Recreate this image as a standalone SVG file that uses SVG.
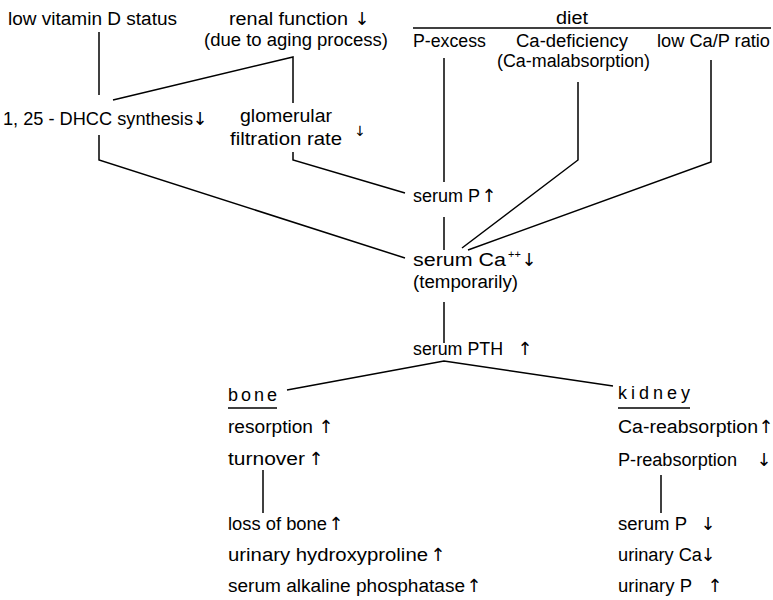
<svg xmlns="http://www.w3.org/2000/svg" width="773" height="600" viewBox="0 0 773 600">
<style>
text{font-family:"Liberation Sans",Arial,sans-serif;font-size:18px;fill:#000}
.ar{font-family:"DejaVu Sans",sans-serif;font-size:18px;text-anchor:middle}
.sm{font-family:"DejaVu Sans",sans-serif;font-size:14px;text-anchor:middle}
.sup{font-size:11px}
line,polyline{stroke:#000;stroke-width:1.5;fill:none}
</style>
<rect width="773" height="600" fill="#fff"/>
<g id="connectors">
<line x1="99" y1="32" x2="99" y2="95"/>
<polyline points="113,100 293,57 293,103"/>
<polyline points="99,135 99,160 405,258"/>
<polyline points="293,152 293,160 405,193"/>
<line x1="413" y1="28" x2="771" y2="28"/>
<line x1="444" y1="58" x2="444" y2="182"/>
<polyline points="578,82 578,160 462,248"/>
<polyline points="711,60 711,162 468,250"/>
<line x1="444" y1="217" x2="444" y2="250"/>
<line x1="444" y1="302" x2="444" y2="343"/>
<polyline points="287,390 444,361 613,386"/>
<line x1="228" y1="408" x2="277" y2="408"/>
<line x1="618" y1="408" x2="690" y2="408"/>
<line x1="263" y1="470" x2="263" y2="513"/>
<line x1="661" y1="475" x2="661" y2="513"/>
</g>
<g id="vitD"><text x="8" y="25" textLength="169" lengthAdjust="spacingAndGlyphs">low vitamin D status</text></g>
<g id="renal">
<text x="229" y="25"><tspan textLength="119" lengthAdjust="spacingAndGlyphs">renal function</tspan><tspan class="ar" x="362">↓</tspan></text>
<text x="204" y="46" textLength="184" lengthAdjust="spacingAndGlyphs">(due to aging process)</text>
</g>
<g id="diet"><text x="556" y="24" textLength="32" lengthAdjust="spacingAndGlyphs">diet</text></g>
<g id="pexcess"><text x="413" y="47" textLength="73" lengthAdjust="spacingAndGlyphs">P-excess</text></g>
<g id="cadef">
<text x="516" y="47" textLength="112" lengthAdjust="spacingAndGlyphs">Ca-deficiency</text>
<text x="497" y="67" textLength="153" lengthAdjust="spacingAndGlyphs">(Ca-malabsorption)</text>
</g>
<g id="lowcap"><text x="657" y="47" textLength="113" lengthAdjust="spacingAndGlyphs">low Ca/P ratio</text></g>
<g id="dhcc"><text x="3" y="125"><tspan textLength="190" lengthAdjust="spacingAndGlyphs">1, 25 - DHCC synthesis</tspan><tspan class="ar" x="200">↓</tspan></text></g>
<g id="gfr">
<text x="240" y="122" textLength="92" lengthAdjust="spacingAndGlyphs">glomerular</text>
<text x="230" y="145"><tspan textLength="112" lengthAdjust="spacingAndGlyphs">filtration rate</tspan><tspan class="sm" x="360" y="136">↓</tspan></text>
</g>
<g id="serumP"><text x="413" y="202"><tspan textLength="67" lengthAdjust="spacingAndGlyphs">serum P</tspan><tspan class="ar" x="489">↑</tspan></text></g>
<g id="serumCa">
<text x="413" y="266"><tspan textLength="93" lengthAdjust="spacingAndGlyphs">serum Ca</tspan><tspan class="sup" x="508" dy="-8">++</tspan><tspan class="ar" x="529" dy="8">↓</tspan></text>
<text x="413" y="288" textLength="105" lengthAdjust="spacingAndGlyphs">(temporarily)</text>
</g>
<g id="pth"><text x="413" y="355"><tspan textLength="90" lengthAdjust="spacingAndGlyphs">serum PTH</tspan><tspan class="ar" x="525">↑</tspan></text></g>
<g id="bone">
<text x="228" y="401" textLength="49" lengthAdjust="spacing">bone</text>
<text x="228" y="433"><tspan textLength="85" lengthAdjust="spacingAndGlyphs">resorption</tspan><tspan class="ar" x="326">↑</tspan></text>
<text x="228" y="465"><tspan textLength="77" lengthAdjust="spacingAndGlyphs">turnover</tspan><tspan class="ar" x="316">↑</tspan></text>
<text x="228" y="530"><tspan textLength="99" lengthAdjust="spacingAndGlyphs">loss of bone</tspan><tspan class="ar" x="336">↑</tspan></text>
<text x="228" y="561"><tspan textLength="200" lengthAdjust="spacingAndGlyphs">urinary hydroxyproline</tspan><tspan class="ar" x="438">↑</tspan></text>
<text x="228" y="592"><tspan textLength="237" lengthAdjust="spacingAndGlyphs">serum alkaline phosphatase</tspan><tspan class="ar" x="474">↑</tspan></text>
</g>
<g id="kidney">
<text x="618" y="399" textLength="72" lengthAdjust="spacing">kidney</text>
<text x="618" y="433"><tspan textLength="140" lengthAdjust="spacingAndGlyphs">Ca-reabsorption</tspan><tspan class="ar" x="766">↑</tspan></text>
<text x="618" y="466"><tspan textLength="119" lengthAdjust="spacingAndGlyphs">P-reabsorption</tspan><tspan class="ar" x="764">↓</tspan></text>
<text x="618" y="530"><tspan textLength="69" lengthAdjust="spacingAndGlyphs">serum P</tspan><tspan class="ar" x="708">↓</tspan></text>
<text x="618" y="561"><tspan textLength="84" lengthAdjust="spacingAndGlyphs">urinary Ca</tspan><tspan class="ar" x="708">↓</tspan></text>
<text x="618" y="592"><tspan textLength="74" lengthAdjust="spacingAndGlyphs">urinary P</tspan><tspan class="ar" x="715">↑</tspan></text>
</g>
</svg>
